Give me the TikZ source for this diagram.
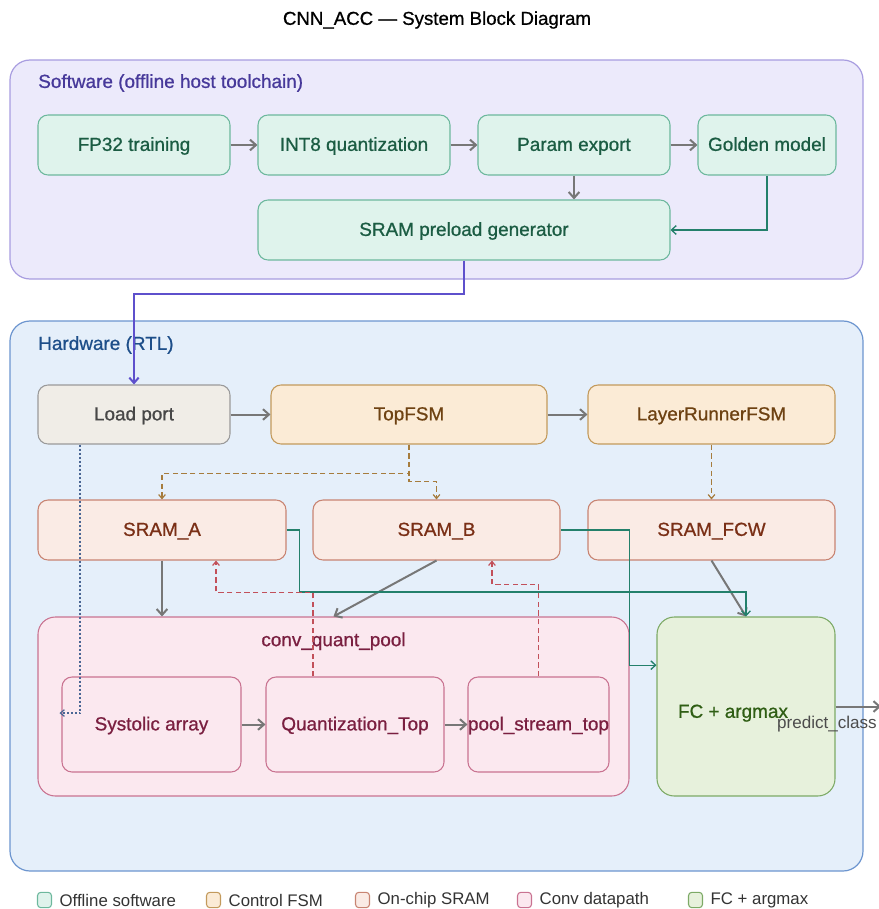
\documentclass[tikz,border=0pt]{standalone}
\usepackage{fontspec}
\setmainfont{Liberation Sans}
\newfontfamily\medfam{Liberation Sans}[BoldFont={Liberation Sans}, BoldFeatures={FakeBold=0.8}]
\newcommand\medfont{\medfam\bfseries}
\usetikzlibrary{arrows.meta,positioning,calc}

% palette
\definecolor{swfill}{HTML}{ECEAFB}
\definecolor{swdraw}{HTML}{A89DE0}
\definecolor{swtext}{HTML}{47399A}
\definecolor{hwfill}{HTML}{E5EFFA}
\definecolor{hwdraw}{HTML}{6C95CF}
\definecolor{hwtext}{HTML}{1D4E89}
\definecolor{offfill}{HTML}{DFF3EC}
\definecolor{offdraw}{HTML}{6DB89D}
\definecolor{offtext}{HTML}{1B5C43}
\definecolor{ldfill}{HTML}{F0EDE7}
\definecolor{lddraw}{HTML}{9A9A9A}
\definecolor{ldtext}{HTML}{474747}
\definecolor{fsmfill}{HTML}{FBEBD6}
\definecolor{fsmdraw}{HTML}{C39A5C}
\definecolor{fsmtext}{HTML}{6E4212}
\definecolor{srfill}{HTML}{FAEBE5}
\definecolor{srdraw}{HTML}{C88472}
\definecolor{srtext}{HTML}{7A2F16}
\definecolor{cvfill}{HTML}{FBE8EF}
\definecolor{cvdraw}{HTML}{C97391}
\definecolor{cvtext}{HTML}{7A1F40}
\definecolor{fcfill}{HTML}{E7F1DC}
\definecolor{fcdraw}{HTML}{7DAA66}
\definecolor{fctext}{HTML}{2F5E14}
\definecolor{flowgray}{HTML}{777777}
\definecolor{teal}{HTML}{23806B}
\definecolor{loadpurple}{HTML}{5E50CC}
\definecolor{ctlbrown}{HTML}{A67C3D}
\definecolor{rdred}{HTML}{C2505A}
\definecolor{ldblue}{HTML}{4A6694}

\tikzset{
  cluster/.style={draw, line width=0.9pt, rounded corners=15pt, inner sep=0pt},
  blk/.style={draw, line width=0.8pt, rounded corners=7.5pt, inner sep=0pt,
    text height=1.0em, text depth=0.12em,
    font=\medfont\fontsize{14.2}{16}\selectfont},
  offsw/.style={blk, fill=offfill, draw=offdraw, text=offtext},
  ldport/.style={blk, fill=ldfill, draw=lddraw, text=ldtext},
  fsm/.style={blk, fill=fsmfill, draw=fsmdraw, text=fsmtext},
  sram/.style={blk, fill=srfill, draw=srdraw, text=srtext},
  conv/.style={blk, fill=cvfill, draw=cvdraw, text=cvtext},
  fcbox/.style={blk, fill=fcfill, draw=fcdraw, text=fctext},
  flow/.style={draw=flowgray, line width=1.5pt, -{Straight Barb[length=4.5pt,width=8pt]}},
  thinflow/.style={draw=teal, line width=1pt, -{Straight Barb[length=3.5pt,width=6.5pt]}},
  ctl/.style={draw=ctlbrown, line width=0.9pt, dash pattern=on 4pt off 2.5pt, -{Straight Barb[length=3pt,width=5pt]}},
  rd/.style={draw=rdred, line width=0.9pt, dash pattern=on 4pt off 2.5pt, -{Straight Barb[length=3pt,width=5pt]}},
  ldot/.style={draw=ldblue, line width=0.9pt, dash pattern=on 1.5pt off 1.5pt, -{Straight Barb[length=3pt,width=5pt]}},
  legsq/.style={draw, line width=0.8pt, rounded corners=2.5pt, minimum width=10.5pt, minimum height=11.5pt, inner sep=0pt},
  legtxt/.style={anchor=west, inner sep=0pt, font=\fontsize{12.6}{14}\selectfont, text=black!80},
}

\begin{document}
\begin{tikzpicture}[x=0.75pt, y=-0.75pt]
\useasboundingbox (0,0) rectangle (878,909);

% title
\node[font=\medfont\fontsize{14}{16}\selectfont] (title) at (437,20) {CNN\_ACC — System Block Diagram};

% clusters
\node[cluster, fill=swfill, draw=swdraw, minimum width=853*0.75pt, minimum height=219*0.75pt] (sw) at (436.5,169.5) {};
\node[anchor=west, inner sep=0pt, text=swtext, font=\medfont\fontsize{14.2}{16}\selectfont] (swlbl) at (38,83) {Software (offline host toolchain)};
\node[cluster, fill=hwfill, draw=hwdraw, minimum width=853*0.75pt, minimum height=550*0.75pt] (hw) at (436.5,596) {};
\node[anchor=west, inner sep=0pt, text=hwtext, font=\medfont\fontsize{14.2}{16}\selectfont] (hwlbl) at (38,345) {Hardware (RTL)};

% software toolchain
\node[offsw, minimum width=192*0.75pt, minimum height=60*0.75pt] (fp32) at (134,145) {FP32 training};
\node[offsw, minimum width=192*0.75pt, minimum height=60*0.75pt] (int8) at (354,145) {INT8 quantization};
\node[offsw, minimum width=192*0.75pt, minimum height=60*0.75pt] (param) at (574,145) {Param export};
\node[offsw, minimum width=138*0.75pt, minimum height=60*0.75pt] (golden) at (767,145) {Golden model};
\node[offsw, minimum width=412*0.75pt, minimum height=60*0.75pt] (preload) at (464,230) {SRAM preload generator};

% control row
\node[ldport, minimum width=192*0.75pt, minimum height=59*0.75pt] (load) at (134,414.5) {Load port};
\node[fsm, minimum width=276*0.75pt, minimum height=59*0.75pt] (top) at (409,414.5) {TopFSM};
\node[fsm, minimum width=247*0.75pt, minimum height=59*0.75pt] (lrf) at (711.5,414.5) {LayerRunnerFSM};

% memories
\node[sram, minimum width=248*0.75pt, minimum height=60*0.75pt] (srama) at (162,530) {SRAM\_A};
\node[sram, minimum width=247*0.75pt, minimum height=60*0.75pt] (sramb) at (436.5,530) {SRAM\_B};
\node[sram, minimum width=247*0.75pt, minimum height=60*0.75pt] (sramfcw) at (711.5,530) {SRAM\_FCW};

% conv datapath
\node[conv, rounded corners=13pt, minimum width=591*0.75pt, minimum height=179*0.75pt,
  label={[name=cqplbl, anchor=center, text=cvtext, font=\medfont\fontsize{14.2}{16}\selectfont, yshift=-18.6pt]north:conv\_quant\_pool}] (cqp) at (333.5,706.5) {};
\node[conv, minimum width=179*0.75pt, minimum height=95*0.75pt] (sys) at (151.5,724.5) {Systolic array};
\node[conv, minimum width=178*0.75pt, minimum height=95*0.75pt] (quant) at (355,724.5) {Quantization\_Top};
\node[conv, minimum width=137*0.75pt, minimum height=95*0.75pt] (pool) at (538.5,724.5) {pool\_stream\_top};

% classifier
\node[fcbox, rounded corners=13pt, minimum width=178*0.75pt, minimum height=179*0.75pt,
  label={[name=fclbl, anchor=center, text=fctext, font=\medfont\fontsize{14.2}{16}\selectfont, xshift=-9.75pt, yshift=-5pt]center:FC + argmax}] (fc) at (746,706.5) {};
\coordinate (out) at (881,706.5);

% software flow
\draw[flow] (fp32) -- (int8);
\draw[flow] (int8) -- (param);
\draw[flow] (param) -- (golden);
\draw[flow] (param.south) -- (param.south |- preload.north);
\draw[thinflow] (golden.south) |- (preload.east);
\draw[draw=loadpurple, line width=1.5pt, -{Straight Barb[length=4pt,width=7pt]}]
  (preload.south) -- ++(0,33) -| (load.north);

% control flow
\draw[flow] (load) -- (top);
\draw[flow] (top) -- (lrf);
\draw[ctl] (top.south) -- ++(0,29) -| (srama.north);
\draw[ctl] (top.south) -- ++(0,37) -| (sramb.north);
\draw[ctl] (lrf) -- (sramfcw);

% data flow
\draw[flow] (srama.south) -- (srama.south |- cqp.north);
\draw[flow] (sramb.south) -- (cqp.north);
\draw[flow] (sramfcw.south) -- (fc.north);
\draw[thinflow] (srama.east) -- ++(13,0) -- ++(0,62) -| (fc.north);
\draw[thinflow] (sramb.east) -- ++(69,0) |- ([yshift=31pt]fc.west);
\draw[rd] ([xshift=-31.5pt]quant.north) -- ++(0,-84) -| ([xshift=40.5pt]srama.south);
\draw[rd] (pool.north) -- ++(0,-92) -| ([xshift=41.6pt]sramb.south);
\draw[ldot] ([xshift=-40.5pt]load.south) |- ([xshift=-1.5pt,yshift=8.6pt]sys.west);
\draw[flow] (sys) -- (quant);
\draw[flow] (quant) -- (pool);
\draw[flow] (fc.east) -- (out);
\node[anchor=east, text=black!70, inner sep=0pt, font=\fontsize{12.8}{15}\selectfont] (predlbl) at (877,724) {predict\_class};

% legend
\node[legsq, fill=offfill, draw=offdraw] (lg1) at (44.5,900) {};
\node[legtxt, right=5.5pt of lg1] (lt1) {Offline software};
\node[legsq, fill=fsmfill, draw=fsmdraw] (lg2) at (213.5,900) {};
\node[legtxt, right=5.5pt of lg2] (lt2) {Control FSM};
\node[legsq, fill=srfill, draw=srdraw] (lg3) at (362.5,900) {};
\node[legtxt, right=5.5pt of lg3] (lt3) {On-chip SRAM};
\node[legsq, fill=cvfill, draw=cvdraw] (lg4) at (524.5,900) {};
\node[legtxt, right=5.5pt of lg4] (lt4) {Conv datapath};
\node[legsq, fill=fcfill, draw=fcdraw] (lg5) at (695.5,900) {};
\node[legtxt, right=5.5pt of lg5] (lt5) {FC + argmax};
\end{tikzpicture}
\end{document}
